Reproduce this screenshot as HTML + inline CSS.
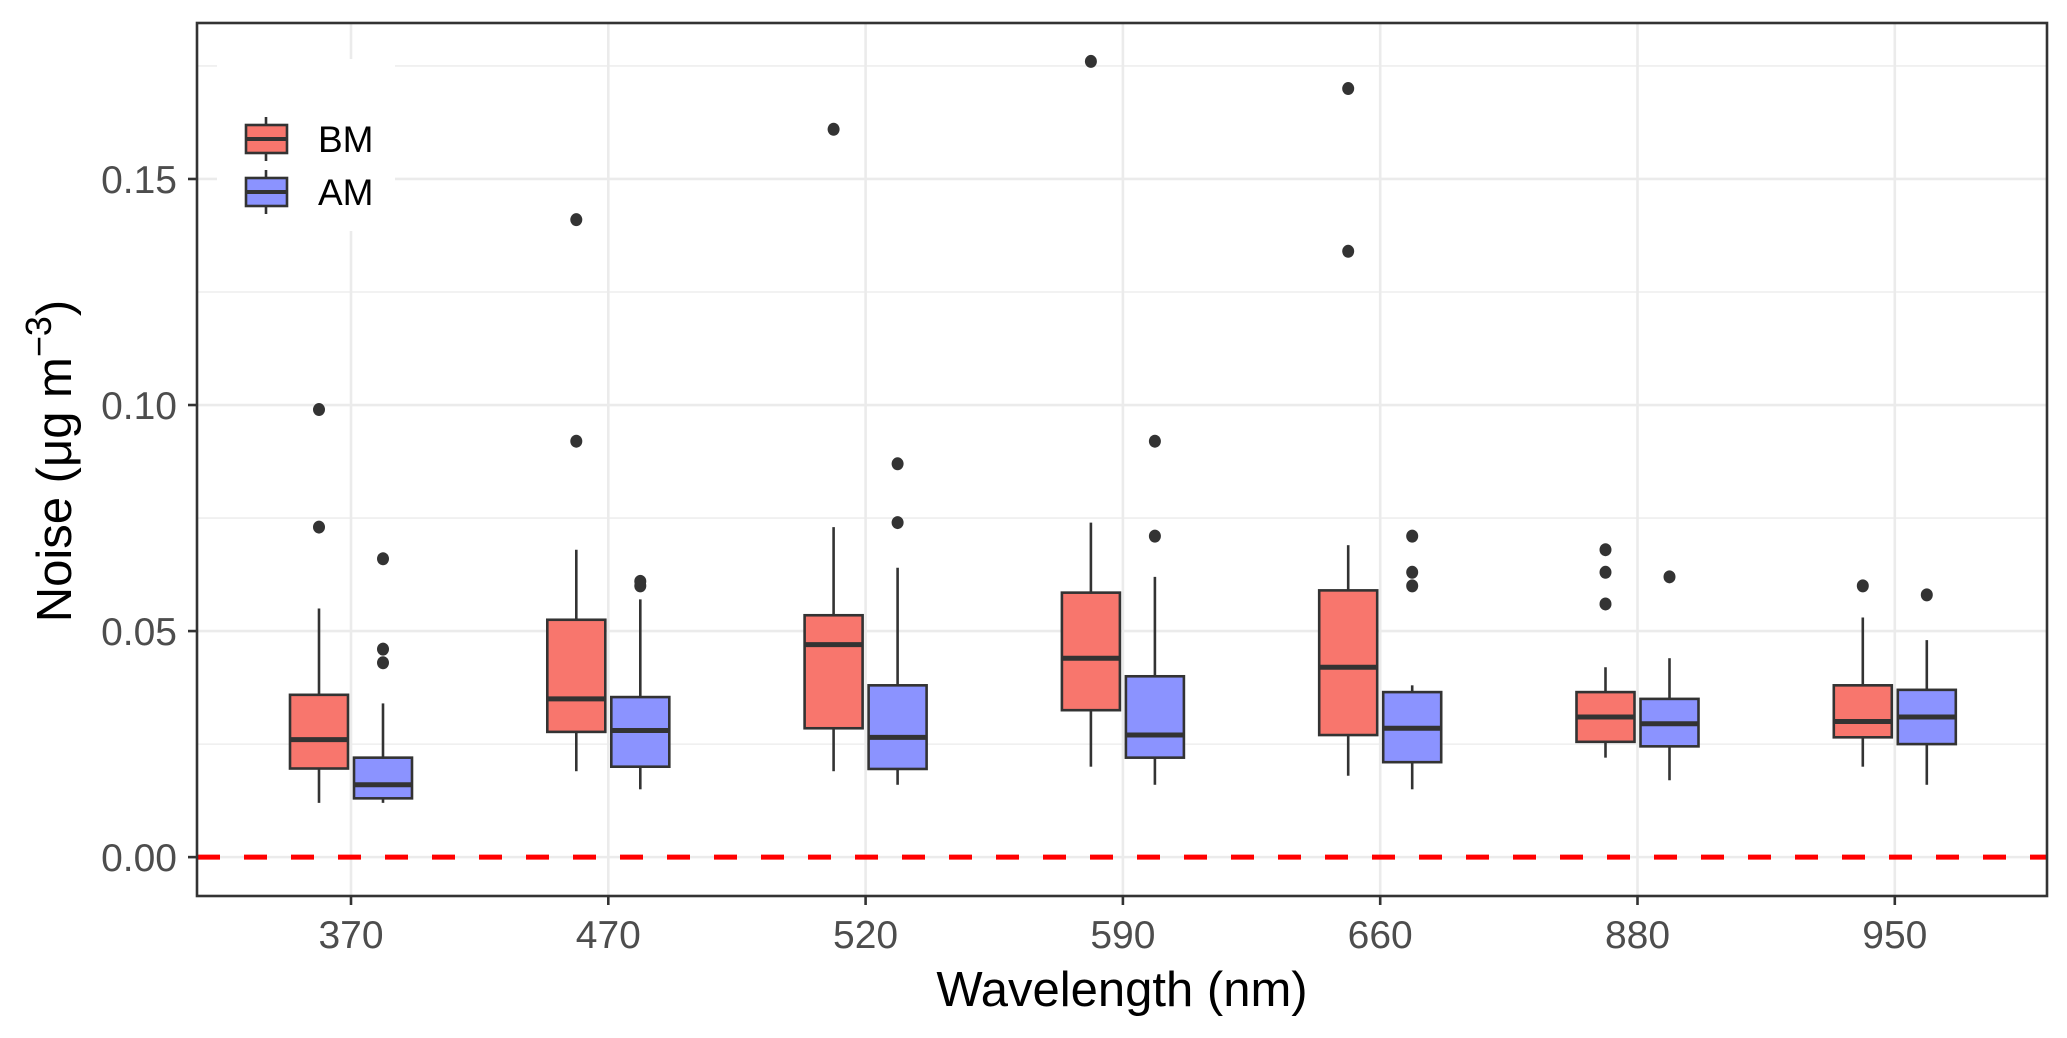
<!DOCTYPE html>
<html><head><meta charset="utf-8"><style>
html,body{margin:0;padding:0;background:#fff;}
svg{display:block;font-family:"Liberation Sans",Arial,sans-serif;}
</style></head><body>
<svg id="chart" width="2067" height="1038" viewBox="0 0 2067 1038" xmlns="http://www.w3.org/2000/svg">
<rect width="2067" height="1038" fill="#fff"/>
<g id="grid"></g>
<g id="marks"></g>
<g id="axes"></g>
</svg>
<script>
const categories = ["370","470","520","590","660","880","950"];
const seriesNames = ["BM","AM"];
const bmLow   = [0.012,0.019,0.019,0.020,0.018,0.022,0.020];
const bmQ1    = [0.0196,0.0277,0.0285,0.0325,0.027,0.0255,0.0265];
const bmMed   = [0.026,0.035,0.047,0.044,0.042,0.031,0.030];
const bmQ3    = [0.0359,0.0525,0.0535,0.0585,0.059,0.0365,0.038];
const bmHigh  = [0.055,0.068,0.073,0.074,0.069,0.042,0.053];
const bmOut   = [[0.073,0.099],[0.092,0.141],[0.161],[0.176],[0.134,0.170],[0.056,0.063,0.068],[0.060]];
const amLow   = [0.012,0.015,0.016,0.016,0.015,0.017,0.016];
const amQ1    = [0.013,0.020,0.0195,0.022,0.021,0.0245,0.025];
const amMed   = [0.016,0.028,0.0265,0.027,0.0285,0.0295,0.031];
const amQ3    = [0.022,0.0354,0.038,0.040,0.0365,0.035,0.037];
const amHigh  = [0.034,0.057,0.064,0.062,0.038,0.044,0.048];
const amOut   = [[0.043,0.046,0.066],[0.060,0.061],[0.074,0.087],[0.071,0.092],[0.060,0.063,0.071],[0.062],[0.058]];
const yMajor = [0,0.05,0.10,0.15];
const yMajorLabels = ["0.00","0.05","0.10","0.15"];
const yMinor = [0.025,0.075,0.125,0.175];

const NS="http://www.w3.org/2000/svg";
const L=197,R=2047,T=23,B=896;
const yMin=-0.0086,yMax=0.1845;
function y(v){return B-(v-yMin)/(yMax-yMin)*(B-T);}
function x(i){return 351+i*257.3;}
function mk(parent,tag,attrs){const e=document.createElementNS(NS,tag);for(const k in attrs)e.setAttribute(k,attrs[k]);parent.appendChild(e);return e;}
const grid=document.getElementById('grid'),marks=document.getElementById('marks'),axes=document.getElementById('axes');

let bg=mk(grid,'rect',{x:L,y:T,width:R-L,height:B-T,fill:'#fff'});


yMinor.forEach(v=>{let l=mk(grid,'line',{x1:L,x2:R,y1:y(v),y2:y(v),stroke:'#ebebeb','stroke-width':1.3});

});
yMajor.forEach(v=>{let l=mk(grid,'line',{x1:L,x2:R,y1:y(v),y2:y(v),stroke:'#ebebeb','stroke-width':2.6});

});
categories.forEach((c,i)=>{let l=mk(grid,'line',{x1:x(i),x2:x(i),y1:T,y2:B,stroke:'#ebebeb','stroke-width':2.6});

});

let zl=mk(marks,'line',{x1:L,x2:R,y1:y(0),y2:y(0),stroke:'#ff0000','stroke-width':5,'stroke-dasharray':'23 24'});



const series=[{name:'bm',fill:'#F8766D',lo:bmLow,q1:bmQ1,md:bmMed,q3:bmQ3,hi:bmHigh,out:bmOut,off:-32},
              {name:'am',fill:'#8B93FF',lo:amLow,q1:amQ1,md:amMed,q3:amQ3,hi:amHigh,out:amOut,off:32}];
const BW=58;
series.forEach(s=>{
  categories.forEach((c,i)=>{
    const cx=x(i)+s.off;
    const g=mk(marks,'g',{});
    
    
    mk(g,'line',{x1:cx,x2:cx,y1:y(s.hi[i]),y2:y(s.q3[i]),stroke:'#333','stroke-width':2.6});
    mk(g,'line',{x1:cx,x2:cx,y1:y(s.q1[i]),y2:y(s.lo[i]),stroke:'#333','stroke-width':2.6});
    mk(g,'rect',{x:cx-BW/2,y:y(s.q3[i]),width:BW,height:y(s.q1[i])-y(s.q3[i]),fill:s.fill,stroke:'#333','stroke-width':2.6});
    mk(g,'line',{x1:cx-BW/2,x2:cx+BW/2,y1:y(s.md[i]),y2:y(s.md[i]),stroke:'#333','stroke-width':5});
    s.out[i].forEach(v=>{
      const p=mk(marks,'ellipse',{cx:cx,cy:y(v),rx:6,ry:6.5,fill:'#333'});
      
      
    });
  });
});

let fr=mk(axes,'rect',{x:L,y:T,width:R-L,height:B-T,fill:'none',stroke:'#333','stroke-width':2.6});


yMajor.forEach((v,i)=>{
  mk(axes,'line',{x1:L-9,x2:L,y1:y(v),y2:y(v),stroke:'#333','stroke-width':2.6});
  const t=mk(axes,'text',{x:L-20,y:y(v)+14,'text-anchor':'end','font-size':39,fill:'#4d4d4d'});
  t.textContent=yMajorLabels[i];
  
  
});
categories.forEach((c,i)=>{
  mk(axes,'line',{x1:x(i),x2:x(i),y1:B,y2:B+9,stroke:'#333','stroke-width':2.6});
  const t=mk(axes,'text',{x:x(i),y:948,'text-anchor':'middle','font-size':39,fill:'#4d4d4d'});
  t.textContent=c;
  
  
});
let xt=mk(axes,'text',{x:(L+R)/2,y:1006,'text-anchor':'middle','font-size':49,fill:'#000'});
xt.textContent='Wavelength (nm)';


let yt=mk(axes,'text',{x:0,y:0,'text-anchor':'middle','font-size':49,fill:'#000',transform:'translate(71,461) rotate(-90)'});
yt.innerHTML='Noise (μg m<tspan dy="-20" font-size="36">−3</tspan><tspan dy="20">)</tspan>';



const lg=mk(axes,'g',{});


mk(lg,'rect',{x:217,y:59,width:178,height:172,fill:'#fff'});
series.forEach((s,k)=>{
  const ky=[139,192][k];
  const e=mk(lg,'g',{});
  
  
  mk(e,'line',{x1:266,x2:266,y1:ky-22,y2:ky+22,stroke:'#333','stroke-width':2.6});
  mk(e,'rect',{x:246,y:ky-14,width:41,height:28,fill:s.fill,stroke:'#333','stroke-width':2.6});
  mk(e,'line',{x1:246,x2:287,y1:ky,y2:ky,stroke:'#333','stroke-width':4});
  const t=mk(e,'text',{x:318,y:ky+13,'font-size':37,fill:'#000'});
  t.textContent=seriesNames[k];
});
</script>
</body></html>
